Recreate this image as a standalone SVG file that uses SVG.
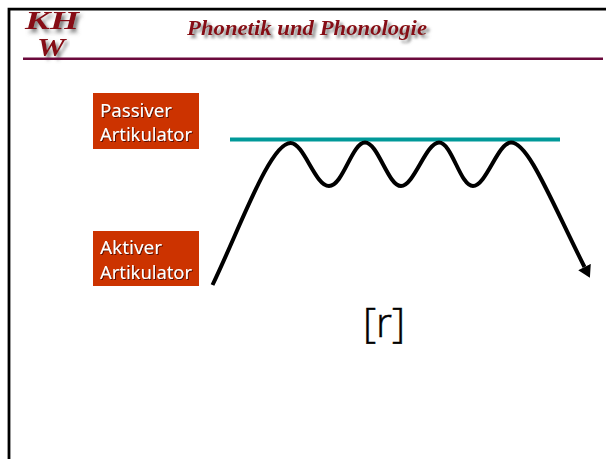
<svg xmlns="http://www.w3.org/2000/svg" width="606" height="459" viewBox="0 0 606 459">
<style>
.box{fill:#cc3300}
.lbl{font-family:"Noto Sans","DejaVu Sans",sans-serif;font-size:18px;fill:#fff;filter:url(#ts)}
.head{font-family:"Liberation Serif",serif;font-style:italic;font-weight:bold;fill:#860a12;filter:url(#hs)}
</style>
<defs>
<filter id="ts" x="-10%" y="-20%" width="120%" height="140%"><feDropShadow dx="1" dy="1" stdDeviation="0.2" flood-color="#300" flood-opacity="0.75"/></filter>
<filter id="hs" x="-10%" y="-30%" width="120%" height="170%"><feDropShadow dx="3" dy="3" stdDeviation="1.8" flood-color="#666" flood-opacity="0.8"/></filter>
<marker id="ah" markerUnits="userSpaceOnUse" markerWidth="16" markerHeight="16" refX="0" refY="7" orient="auto"><path d="M0,0L12,7L0,14Z" fill="#000"/></marker>
</defs>
<rect width="606" height="459" fill="#fff"/>
<g id="frame"><path d="M9,459V9.200H606" fill="none" stroke="#000" stroke-width="2.800"/></g>
<g id="header">
<text class="head" x="187" y="35" font-size="21" textLength="240" lengthAdjust="spacingAndGlyphs">Phonetik und Phonologie</text>
<text class="head" transform="translate(25,29) scale(1,1.1)" font-size="23" textLength="54" lengthAdjust="spacingAndGlyphs">KH</text>
<text class="head" transform="translate(37,56) scale(1,1.1)" font-size="23" textLength="28" lengthAdjust="spacingAndGlyphs">W</text>
<rect x="23" y="57.500" width="580" height="2.500" fill="#6b0a3c"/>
</g>
<g id="passiver">
<rect class="box" x="93" y="93" width="106" height="56"/>
<text class="lbl" x="100" y="117" textLength="72" lengthAdjust="spacingAndGlyphs">Passiver</text>
<text class="lbl" x="100" y="141" textLength="92" lengthAdjust="spacingAndGlyphs">Artikulator</text>
</g>
<g id="aktiver">
<rect class="box" x="93" y="231" width="106" height="55"/>
<text class="lbl" x="100" y="254" textLength="62" lengthAdjust="spacingAndGlyphs">Aktiver</text>
<text class="lbl" x="100" y="279" textLength="92" lengthAdjust="spacingAndGlyphs">Artikulator</text>
</g>
<g id="connectors">
<path id="bar" d="M230,139.500H560" fill="none" stroke="#009999" stroke-width="4"/>
<path id="tongue" d="M212.500,285C240,228 270,143 290.500,143C304,143 315,186 329,186C343,186 352,142.500 365,142.500C378,142.500 388,186 401,186C414,186 426,142.500 439,142.500C452,142.500 460,186 473,186C486,186 498,142.500 511,142.500C528,142.500 549,196 584.500,267" fill="none" stroke="#000" stroke-width="4" marker-end="url(#ah)"/>
</g>
<g id="sound"><text x="384" y="337" text-anchor="middle" font-family="Open Sans,Noto Sans,sans-serif" font-weight="300" font-size="41" fill="#000" stroke="#000" stroke-width="0.500">[r]</text></g>
</svg>
